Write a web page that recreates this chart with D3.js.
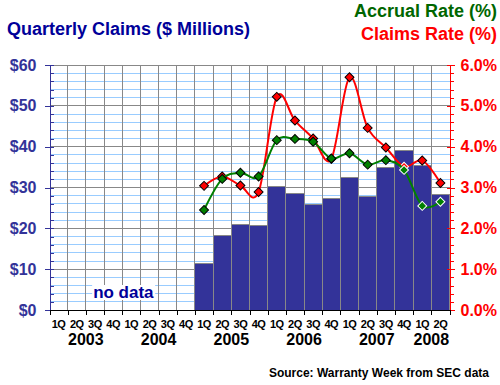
<!DOCTYPE html>
<html>
<head>
<meta charset="utf-8">
<script src="https://cdn.jsdelivr.net/npm/d3@7"></script>
<style>
  body { margin: 0; background: #fff; }
  svg { display: block; }
</style>
</head>
<body>
<script>
// Data
const years = [2003, 2004, 2005, 2006, 2007, 2008];
const quarters = ["1Q", "2Q", "3Q", "4Q"];
const lastQuarter = 2; // 2008 ends at 2Q

// Quarterly claims, $ millions (no data before 2005)
const claims = [null, null, null, null, null, null, null, null,
  11.4, 18.3, 21.0, 20.7, 30.3, 28.6, 25.9, 27.3, 32.5, 27.8, 34.9, 39.1, 35.4, 28.3];
const claimsRate = [null, null, null, null, null, null, null, null,
  3.04, 3.27, 3.05, 2.89, 5.22, 4.64, 4.20, 3.70, 5.70, 4.46, 3.98, 3.51, 3.66, 3.11];
const accrualRate = [null, null, null, null, null, null, null, null,
  2.45, 3.21, 3.36, 3.27, 4.16, 4.19, 4.12, 3.71, 3.84, 3.56, 3.67, 3.43, 2.55, 2.65];

const leftTicks = [0, 10, 20, 30, 40, 50, 60];
const rightTicks = [0, 1, 2, 3, 4, 5, 6];

const w = 500;
const h = 385;
const plot = { left: 49.5, right: 449.5, top: 65, bottom: 310 };
const font = "Arial, 'Liberation Sans', sans-serif";

// periods like "2005 1Q"
const periods = [];
years.forEach((yv, i) => {
  const n = i === years.length - 1 ? lastQuarter : 4;
  quarters.slice(0, n).forEach((q) => periods.push({ year: yv, q: q, key: yv + " " + q }));
});

const svg = d3.select("body").append("svg")
  .attr("width", w).attr("height", h)
  .style("font-family", font)
  .style("font-weight", "bold");

// scales
const x = d3.scaleBand().domain(periods.map((d) => d.key)).range([plot.left, plot.right]).padding(0);
const xi = d3.scaleLinear().domain([0, periods.length]).range([plot.left, plot.right]);
const y = d3.scaleLinear().domain([0, 60]).range([plot.bottom, plot.top]);
const yr = d3.scaleLinear().domain([0, 6]).range([plot.bottom, plot.top]);

// grid
const grid = svg.append("g").attr("shape-rendering", "crispEdges");
grid.selectAll(".hminor")
  .data(d3.range(2, 61, 2).filter((v) => v % 10 !== 0))
  .join("line")
  .attr("x1", plot.left).attr("x2", plot.right)
  .attr("y1", (d) => y(d)).attr("y2", (d) => y(d))
  .attr("stroke", "#99ccff");
grid.selectAll(".v")
  .data(d3.range(1, periods.length))
  .join("line")
  .attr("x1", (d) => xi(d)).attr("x2", (d) => xi(d))
  .attr("y1", plot.top).attr("y2", plot.bottom)
  .attr("stroke", "#888");
grid.selectAll(".hmajor")
  .data(leftTicks.slice(1))
  .join("line")
  .attr("x1", plot.left).attr("x2", plot.right)
  .attr("y1", (d) => y(d)).attr("y2", (d) => y(d))
  .attr("stroke", "#888");

// bars
const barData = periods.map((p, i) => ({ key: p.key, v: claims[i] })).filter((d) => d.v != null);
svg.append("g")
  .selectAll("rect")
  .data(barData)
  .join("rect")
  .attr("x", (d) => x(d.key))
  .attr("y", (d) => y(d.v))
  .attr("width", x.bandwidth())
  .attr("height", (d) => y(0) - y(d.v))
  .attr("fill", "#333399")
  .attr("stroke", "#888")
  .attr("shape-rendering", "crispEdges");

// "no data" label over the empty years
const nd = svg.append("text")
  .attr("x", xi(2.4)).attr("y", 298)
  .attr("fill", "#000099")
  .style("font-size", "17px")
  .text("no data");
const bb = nd.node().getBBox();
svg.insert("rect", "text")
  .attr("x", bb.x - 1).attr("y", bb.y + 2)
  .attr("width", bb.width + 2).attr("height", bb.height - 4)
  .attr("fill", "#fff");

// rate lines
function drawRate(vals, color) {
  const pts = periods.map((p, i) => ({ key: p.key, v: vals[i], bar: claims[i] })).filter((d) => d.v != null);
  const line = d3.line()
    .x((d) => x(d.key) + x.bandwidth() / 2)
    .y((d) => yr(d.v))
    .curve(d3.curveCardinal.tension(0));
  svg.append("path")
    .datum(pts)
    .attr("d", line)
    .attr("fill", "none")
    .attr("stroke", color)
    .attr("stroke-width", 2);
  svg.append("g")
    .selectAll("path")
    .data(pts)
    .join("path")
    .attr("d", d3.symbol(d3.symbolSquare, 40))
    .attr("transform", (d) => `translate(${x(d.key) + x.bandwidth() / 2},${yr(d.v)}) rotate(45)`)
    .attr("fill", color)
    .attr("stroke", (d) => (yr(d.v) > y(d.bar) ? "#fff" : "#000"))
    .attr("stroke-width", 1);
}
drawRate(claimsRate, "#ff0000");
drawRate(accrualRate, "#008000");

function styleLabels(g, color) {
  g.selectAll("text")
    .attr("fill", color)
    .style("font-size", "16px")
    .style("font-family", font)
    .style("font-weight", "bold");
}

// left axis: minor ticks inside, major ticks across
svg.append("g")
  .attr("transform", `translate(${plot.left},0)`)
  .attr("shape-rendering", "crispEdges")
  .call(d3.axisLeft(y).tickValues(d3.range(0, 61, 2)).tickSize(-4).tickFormat(""))
  .call((g) => g.selectAll("line,path").attr("stroke", "#333399"));
svg.append("g")
  .attr("transform", `translate(${plot.left},0)`)
  .attr("shape-rendering", "crispEdges")
  .call(d3.axisLeft(y).tickValues(leftTicks).tickSize(5).tickPadding(8).tickFormat((d) => "$" + d))
  .call((g) => g.selectAll("line,path").attr("stroke", "#333399"))
  .call((g) => styleLabels(g, "#333399"));

// right axis: minor ticks outside, major ticks across
svg.append("g")
  .attr("transform", `translate(${plot.right},0)`)
  .attr("shape-rendering", "crispEdges")
  .call(d3.axisRight(yr).tickValues(d3.range(0, 31).map((d) => d / 5)).tickSize(4).tickFormat(""))
  .call((g) => g.selectAll("line,path").attr("stroke", "#ff0000"));
svg.append("g")
  .attr("transform", `translate(${plot.right},0)`)
  .attr("shape-rendering", "crispEdges")
  .call(d3.axisRight(yr).tickValues(rightTicks).tickSize(-3).tickFormat(""))
  .call((g) => g.selectAll("line,path").attr("stroke", "#ff0000"));
svg.append("g")
  .attr("transform", `translate(${plot.right},0)`)
  .attr("shape-rendering", "crispEdges")
  .call(d3.axisRight(yr).tickValues(rightTicks).tickSize(5).tickPadding(6).tickFormat((d) => d.toFixed(1) + "%"))
  .call((g) => g.selectAll("line,path").attr("stroke", "#ff0000"))
  .call((g) => styleLabels(g, "#ff0000"));

// x axis: ticks on quarter boundaries
svg.append("g")
  .attr("transform", `translate(0,${plot.bottom})`)
  .attr("shape-rendering", "crispEdges")
  .call(d3.axisBottom(xi).tickValues(d3.range(0, periods.length + 1)).tickSize(5).tickSizeOuter(0).tickFormat(""))
  .call((g) => g.selectAll("line,path").attr("stroke", "#000"));

// quarter labels
svg.append("g")
  .attr("transform", `translate(0,${plot.bottom})`)
  .call(d3.axisBottom(x).tickSize(0).tickPadding(10).tickFormat((k) => k.split(" ")[1]))
  .call((g) => {
    g.select(".domain").remove();
    g.selectAll("text")
      .attr("fill", "#000")
      .style("font-size", "11px")
      .style("letter-spacing", "-0.5px")
      .style("font-family", font)
      .style("font-weight", "bold");
  });

// year labels
svg.append("g")
  .selectAll("text")
  .data(years)
  .join("text")
  .attr("x", (yv) => {
    const ks = periods.filter((p) => p.year === yv);
    return (x(ks[0].key) + x(ks[ks.length - 1].key) + x.bandwidth()) / 2;
  })
  .attr("y", 345)
  .attr("text-anchor", "middle")
  .style("font-size", "16px")
  .text((d) => d);

// titles
svg.append("text")
  .attr("x", 7).attr("y", 35)
  .attr("fill", "#000099")
  .style("font-size", "18px")
  .text("Quarterly Claims ($ Millions)");

svg.append("text")
  .attr("x", 497).attr("y", 17)
  .attr("text-anchor", "end")
  .attr("fill", "#006600")
  .style("font-size", "18px")
  .text("Accrual Rate (%)");

svg.append("text")
  .attr("x", 497).attr("y", 40)
  .attr("text-anchor", "end")
  .attr("fill", "#ff0000")
  .style("font-size", "18px")
  .text("Claims Rate (%)");

svg.append("text")
  .attr("x", 489).attr("y", 377)
  .attr("text-anchor", "end")
  .attr("fill", "#000")
  .style("font-size", "12px")
  .text("Source: Warranty Week from SEC data");
</script>
</body>
</html>
